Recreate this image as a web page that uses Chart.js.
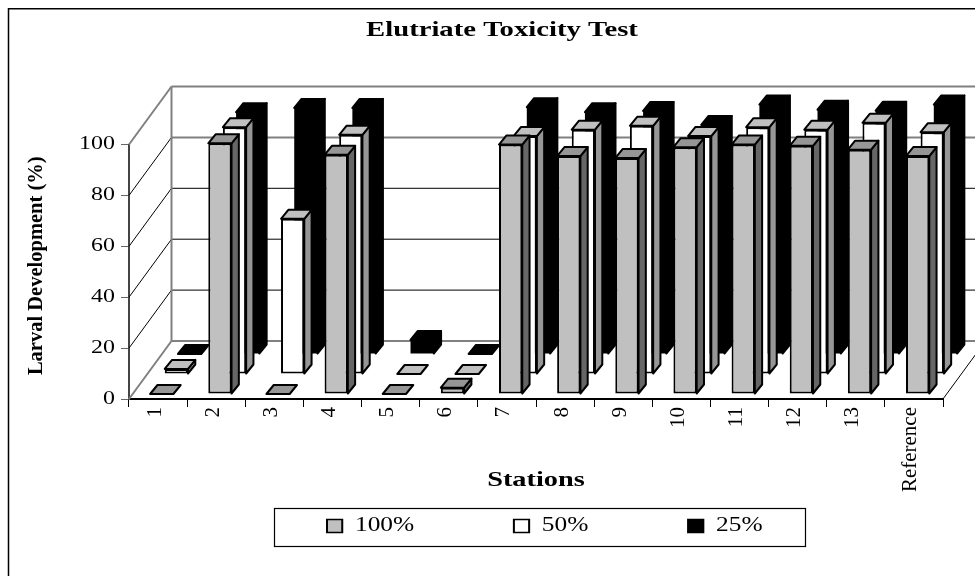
<!DOCTYPE html>
<html><head><meta charset="utf-8">
<style>html,body{margin:0;padding:0;background:#fff}canvas{display:block}</style>
<script src="https://cdn.jsdelivr.net/npm/chart.js@4"></script></head>
<body><div style="width:975px;height:576px"><canvas id="c" width="975" height="576"></canvas></div>
<script>
const categories = ['1','2','3','4','5','6','7','8','9','10','11','12','13','Reference'];
const series100 = [0,98.5,0,94,0,2.5,98,93.5,92.7,97,98,97.5,96,93.5];
const series50  = [2,97,61,94,0,0,93.5,96,97.5,93.5,97,96,98.7,95];
const series25  = [0,95,96.7,96.7,5.5,0,97,95,95.5,90,98,96,95.6,98];
const yTicks = [0,20,40,60,80,100];
const SERIF = '"Liberation Serif","Times New Roman",serif';

// projection of the pseudo-3D box, in pixels
const WALL = {dx:42.5, dy:-58};
const SLOT = [{dx:3.7,dy:-5},{dx:18.3,dy:-25},{dx:31.5,dy:-45}];
const BAR_DEPTH = {dx:7.3, dy:-9};
const FACE = [
  {front:'#c0c0c0', top:'#969696', side:'#666666', line:'#000'},
  {front:'#ffffff', top:'#c0c0c0', side:'#969696', line:'#000'},
  {front:'#000000', top:'#000000', side:'#000000', line:'#000'}
];

function poly(ctx, pts, fill, stroke, lw){
  ctx.beginPath();
  pts.forEach((p,i)=> i?ctx.lineTo(p[0],p[1]):ctx.moveTo(p[0],p[1]));
  ctx.closePath();
  if(fill){ctx.fillStyle=fill;ctx.fill();}
  if(stroke){ctx.strokeStyle=stroke;ctx.lineWidth=lw;ctx.lineJoin='round';ctx.stroke();}
}
function seg(ctx,x1,y1,x2,y2,color,lw){
  ctx.beginPath();ctx.moveTo(x1,y1);ctx.lineTo(x2,y2);ctx.strokeStyle=color;ctx.lineWidth=lw;ctx.stroke();
}
// the reference's text is stretched sideways: redraw a text layer through a transform
function wrapXform(obj,name,fn){
  const orig=obj[name];
  obj[name]=function(...a){
    const c=this.ctx; c.save(); fn(c,this); const r=orig.apply(this,a); c.restore(); return r;
  };
}
const LEGEND_SX=1.27, LEGEND_X=327, LEGEND_Y=526;

const box3d = {
  id:'box3d',
  beforeLayout(chart){
    const lg=chart.legend;
    if(lg && !lg._fixed){
      lg._fixed=true;
      const fit=lg.fit, draw=lg.draw;
      lg.fit=function(){fit.call(this); this.height=0;};
      lg.draw=function(){
        const c=this.ctx, hb=this.legendHitBoxes[0];
        this.bottom=this.top+1000;
        c.save();
        c.translate(LEGEND_X, LEGEND_Y-(hb.top+hb.height/2));
        c.scale(LEGEND_SX,1);
        c.translate(-hb.left,0);
        draw.call(this); c.restore();
      };
    }
  },
  beforeDraw(chart){
    if(chart._wrapped) return; chart._wrapped=true;
    const {x,y}=chart.scales;
    wrapXform(y,'drawLabels',(c,s)=>{const cx=s.right-14;c.translate(cx,0);c.scale(1.26,1);c.translate(-cx,0);});
    wrapXform(x,'drawLabels',c=>c.translate(-3,0));
    wrapXform(x,'drawTitle',(c,s)=>{const cx=(s.left+s.right)/2;c.translate(cx,0);c.scale(1.35,1);c.translate(-cx,0);});
    wrapXform(y,'drawTitle',c=>c.translate(0,-6));
    wrapXform(chart.titleBlock,'draw',(c,t)=>{const cx=(t.left+t.right)/2;c.translate(502,0);c.scale(1.365,1);c.translate(-cx,0);});
  },
  beforeDatasetsDraw(chart){
    const {ctx,scales:{x,y},chartArea:a}=chart;
    const GRAY='#808080';
    ctx.save();
    seg(ctx,8.5,8,8.5,576,'#000',1.5);
    seg(ctx,8,8.7,975,8.7,'#000',1.5);
    const y0=y.getPixelForValue(0), yT=y.getPixelForValue(100);
    yTicks.forEach(v=>{
      const py=y.getPixelForValue(v);
      const edge=(v===0||v===100);
      const col=(edge||v===80)?GRAY:'#000';
      seg(ctx,a.left,py,a.left+WALL.dx,py+WALL.dy,edge?GRAY:'#000',edge?2:1);
      seg(ctx,a.left+WALL.dx,py+WALL.dy,a.right+WALL.dx,py+WALL.dy,col,edge||v===80?2:1);
    });
    seg(ctx,a.left+WALL.dx,yT+WALL.dy,a.left+WALL.dx,y0+WALL.dy,GRAY,2);
    seg(ctx,a.right,y0,a.right+WALL.dx,y0+WALL.dy,'#000',1);
    ctx.restore();
  },
  beforeDatasetDraw(chart,args){
    const i=args.index, f=FACE[i], s=SLOT[i], ctx=chart.ctx, d=BAR_DEPTH;
    ctx.save();
    ctx.translate(s.dx,s.dy);
    chart.getDatasetMeta(i).data.forEach(el=>{
      const p=el.getProps(['x','y','base','width']);
      const l=p.x-p.width/2, r=p.x+p.width/2, t=p.y, b=p.base;
      if(b-t>0.01) poly(ctx,[[r,t],[r+d.dx,t+d.dy],[r+d.dx,b+d.dy],[r,b]],f.side,f.line,2);
      poly(ctx,[[l,t],[l+d.dx,t+d.dy],[r+d.dx,t+d.dy],[r,t]],f.top,f.line,2);
    });
  },
  afterDatasetDraw(chart){ chart.ctx.restore(); },
  afterDraw(chart){
    const c=chart.ctx; c.save();
    c.strokeStyle='#000';c.lineWidth=1.2;c.strokeRect(274.5,508.5,531,38);
    c.restore();
  }
};

new Chart(document.getElementById('c'),{
  type:'bar',
  data:{labels:categories,datasets:[
    {label:'100%',data:series100,backgroundColor:FACE[0].front,borderColor:'#000',borderWidth:2,borderSkipped:false,clip:false},
    {label:'50%',data:series50,backgroundColor:FACE[1].front,borderColor:'#000',borderWidth:2,borderSkipped:false,clip:false},
    {label:'25%',data:series25,backgroundColor:FACE[2].front,borderWidth:0,clip:false}
  ]},
  plugins:[box3d],
  options:{
    responsive:false,animation:false,devicePixelRatio:1,
    datasets:{bar:{grouped:false,categoryPercentage:0.4,barPercentage:1}},
    layout:{autoPadding:false,padding:{left:8,right:32,top:0,bottom:76}},
    plugins:{
      tooltip:{enabled:false},
      title:{display:true,text:'Elutriate Toxicity Test',color:'#000',
        font:{family:SERIF,size:21,weight:'bold',lineHeight:1.2},
        padding:{top:18,bottom:101.3}},
      legend:{display:true,position:'bottom',onClick:null,
        labels:{color:'#000',boxWidth:12,boxHeight:13,padding:78.5,
          font:{family:SERIF,size:20},
          generateLabels(chart){
            return chart.data.datasets.map((d,i)=>({text:d.label,fillStyle:d.backgroundColor,strokeStyle:'#000',lineWidth:1.6,datasetIndex:i,hidden:false}));
          }}}
    },
    scales:{
      x:{
        afterFit(s){s.height=101;},
        border:{display:true,color:'#000',width:2},
        grid:{display:true,drawOnChartArea:false,drawTicks:true,tickLength:8,color:'#000',offset:true},
        ticks:{color:'#000',font:{family:SERIF,size:21},minRotation:90,maxRotation:90,autoSkip:false,padding:0},
        title:{display:true,text:'Stations',color:'#000',font:{family:SERIF,size:21,weight:'bold'},padding:{top:0,bottom:7}}
      },
      y:{
        min:0,max:100,
        afterFit(s){s.width=121;},
        border:{display:true,color:'#444',width:2},
        grid:{display:true,drawOnChartArea:false,drawTicks:true,tickLength:8,color:'#666'},
        afterBuildTicks(s){s.ticks=yTicks.map(v=>({value:v}));},
        ticks:{color:'#000',font:{family:SERIF,size:19},padding:6},
        title:{display:true,text:'Larval Development (%)',color:'#000',font:{family:SERIF,size:20.5,weight:'bold'},padding:{top:16,bottom:0}}
      }
    }
  }
});
</script></body></html>
